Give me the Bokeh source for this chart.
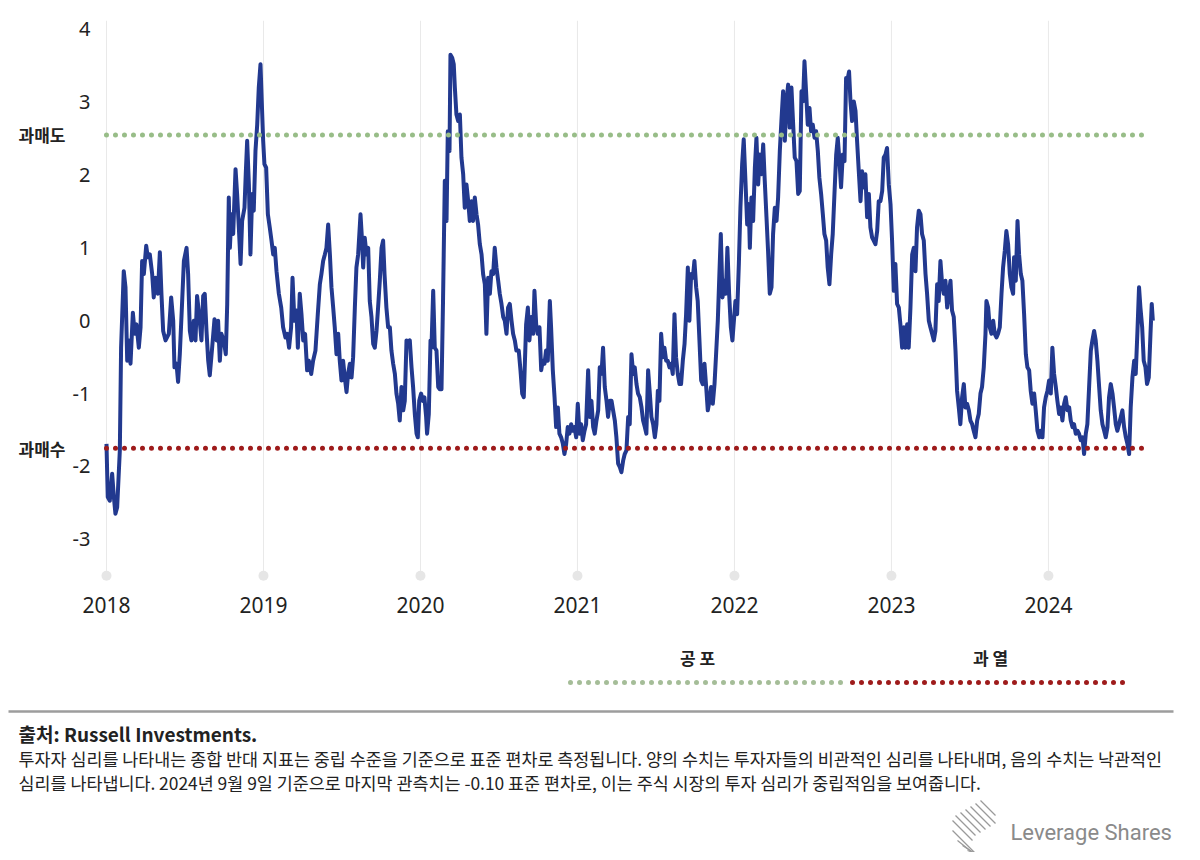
from bokeh.plotting import figure
from bokeh.models import Range1d, LinearAxis, FixedTicker, Label
from bokeh.embed import file_html
from bokeh.resources import INLINE

# ---------------- data ----------------
base_year = 2018
# time in years since 2018-01-01
year_offset = [
    0.000, 0.008, 0.021, 0.036, 0.047, 0.057, 0.068, 0.085, 0.093, 0.110, 0.121, 0.132, 0.142, 0.153, 0.168,
    0.180, 0.191, 0.206, 0.217, 0.227, 0.238, 0.253, 0.263, 0.276, 0.291, 0.301, 0.312, 0.327, 0.340, 0.350,
    0.361, 0.376, 0.397, 0.412, 0.425, 0.433, 0.446, 0.456, 0.467, 0.482, 0.493, 0.510, 0.520, 0.531, 0.541,
    0.556, 0.567, 0.577, 0.590, 0.605, 0.616, 0.626, 0.637, 0.648, 0.658, 0.673, 0.688, 0.701, 0.711, 0.722,
    0.732, 0.747, 0.760, 0.769, 0.779, 0.786, 0.796, 0.807, 0.822, 0.832, 0.843, 0.854, 0.864, 0.879, 0.887,
    0.896, 0.907, 0.917, 0.928, 0.938, 0.949, 0.960, 0.970, 0.981, 0.989, 0.998, 1.006, 1.017, 1.028, 1.040,
    1.051, 1.062, 1.072, 1.083, 1.098, 1.113, 1.125, 1.140, 1.151, 1.163, 1.176, 1.185, 1.197, 1.210, 1.219,
    1.231, 1.242, 1.253, 1.265, 1.278, 1.289, 1.304, 1.316, 1.331,
    1.346, 1.359, 1.369, 1.380, 1.391, 1.401, 1.412, 1.423, 1.433, 1.444, 1.454, 1.465, 1.476, 1.486, 1.497,
    1.507, 1.518, 1.529, 1.539, 1.550, 1.561, 1.571, 1.582, 1.592, 1.603, 1.618, 1.628, 1.635, 1.645, 1.656,
    1.667, 1.677, 1.688, 1.699, 1.709, 1.720, 1.730, 1.741, 1.752, 1.762, 1.771, 1.783, 1.794, 1.805, 1.815,
    1.826, 1.837, 1.847, 1.858, 1.868, 1.879, 1.890, 1.900, 1.911, 1.921, 1.932, 1.943, 1.953, 1.964, 1.975,
    1.983, 1.992, 2.004, 2.015, 2.025, 2.036, 2.042, 2.053, 2.064, 2.070, 2.081, 2.091, 2.102, 2.113, 2.123,
    2.134, 2.144, 2.155, 2.166, 2.174, 2.185, 2.191, 2.202, 2.212, 2.219, 2.229, 2.240, 2.251, 2.261, 2.272,
    2.282, 2.293, 2.304, 2.314, 2.325, 2.335, 2.346, 2.357, 2.367, 2.378, 2.389, 2.399, 2.410, 2.420, 2.431,
    2.442, 2.452, 2.463, 2.473, 2.484, 2.495, 2.505, 2.516, 2.527, 2.537, 2.548, 2.558, 2.569, 2.580, 2.590,
    2.601, 2.611, 2.626, 2.637, 2.648, 2.658,
    2.673, 2.684, 2.694, 2.705, 2.718, 2.726, 2.737, 2.747, 2.758, 2.769, 2.779, 2.790, 2.800, 2.811, 2.824,
    2.832, 2.843, 2.854, 2.864, 2.875, 2.885, 2.896, 2.907, 2.917, 2.928, 2.938, 2.949, 2.960, 2.970, 2.981,
    2.992, 3.002, 3.013, 3.023, 3.034, 3.045, 3.055, 3.068, 3.079, 3.089, 3.100, 3.110, 3.121, 3.132, 3.142,
    3.153, 3.163, 3.174, 3.185, 3.195, 3.206, 3.217, 3.227, 3.238, 3.248, 3.259, 3.270, 3.280, 3.291, 3.301,
    3.312, 3.323, 3.333, 3.344, 3.355, 3.365, 3.376, 3.386, 3.397, 3.408, 3.418, 3.429, 3.439, 3.450, 3.461,
    3.471, 3.482, 3.493, 3.503, 3.512, 3.522, 3.533, 3.544, 3.554, 3.565, 3.575, 3.586, 3.597, 3.607, 3.618,
    3.628, 3.639, 3.650, 3.660, 3.671, 3.682, 3.692, 3.703, 3.713, 3.724, 3.735, 3.745, 3.756, 3.766, 3.777,
    3.788, 3.798, 3.809, 3.820, 3.830, 3.841, 3.851, 3.862, 3.873, 3.883, 3.894, 3.904, 3.913, 3.924, 3.934,
    3.945, 3.955, 3.966, 3.977, 3.987,
    4.006, 4.017, 4.028, 4.038, 4.049, 4.059, 4.070, 4.081, 4.091, 4.098, 4.108, 4.119, 4.130, 4.140, 4.151,
    4.161, 4.172, 4.183, 4.193, 4.204, 4.214, 4.225, 4.236, 4.246, 4.257, 4.268, 4.278, 4.289, 4.299, 4.310,
    4.321, 4.331, 4.342, 4.352, 4.363, 4.374, 4.384, 4.395, 4.406, 4.416, 4.427, 4.437, 4.446, 4.456, 4.467,
    4.478, 4.488, 4.499, 4.510, 4.520, 4.531, 4.541, 4.552, 4.563, 4.573, 4.584, 4.594, 4.605, 4.616, 4.626,
    4.637, 4.648, 4.658, 4.669, 4.679, 4.690, 4.701, 4.711, 4.722, 4.730, 4.739, 4.749, 4.760, 4.771, 4.781,
    4.792, 4.803, 4.813, 4.824, 4.834, 4.845, 4.856, 4.866, 4.877, 4.887, 4.898, 4.909, 4.919, 4.930, 4.941,
    4.951, 4.962, 4.972, 4.983, 4.994, 5.004, 5.015, 5.025, 5.036, 5.047, 5.057, 5.068, 5.079, 5.089, 5.100,
    5.110, 5.121, 5.132, 5.142, 5.153, 5.163, 5.174, 5.185, 5.195, 5.206, 5.217, 5.227, 5.238, 5.248, 5.259,
    5.270, 5.280, 5.291, 5.301, 5.312, 5.323, 5.333,
    5.344, 5.355, 5.365, 5.376, 5.386, 5.397, 5.408, 5.418, 5.429, 5.439, 5.450, 5.461, 5.471, 5.482, 5.493,
    5.503, 5.514, 5.524, 5.535, 5.546, 5.556, 5.567, 5.577, 5.588, 5.599, 5.605, 5.616, 5.626, 5.637, 5.648,
    5.658, 5.669, 5.679, 5.690, 5.701, 5.711, 5.722, 5.732, 5.743, 5.754, 5.764, 5.775, 5.781, 5.792, 5.803,
    5.813, 5.824, 5.834, 5.845, 5.856, 5.866, 5.877, 5.887, 5.898, 5.909, 5.919, 5.930, 5.941, 5.951, 5.962,
    5.972, 5.983, 5.994, 6.004, 6.015, 6.025, 6.036, 6.047, 6.057, 6.068, 6.079, 6.089, 6.100, 6.110, 6.121,
    6.132, 6.142, 6.153, 6.163, 6.174, 6.185, 6.195, 6.206, 6.217, 6.227, 6.238, 6.248, 6.259, 6.270, 6.280,
    6.291, 6.301, 6.312, 6.323, 6.333, 6.344, 6.355, 6.365, 6.376, 6.386, 6.397, 6.408, 6.418, 6.429, 6.439,
    6.450, 6.461, 6.471, 6.482, 6.493, 6.503, 6.514, 6.524, 6.535, 6.546, 6.556, 6.567, 6.577, 6.586, 6.597,
    6.607, 6.618, 6.628, 6.639, 6.650, 6.658, 6.665,
]
# composite contrarian sentiment indicator (standard deviations)
sentiment = [
    -1.69, -2.42, -2.47, -2.10, -2.42, -2.65, -2.56, -1.78, -0.37, 0.68, 0.46, -0.55, -0.27, -0.59, 0.11,
    -0.18, -0.05, -0.37, -0.09, 0.82, 0.64, 1.03, 0.87, 0.91, 0.64, 0.32, 0.59, 0.37, 0.94, 0.37,
    -0.14, -0.27, -0.18, 0.32, 0.00, -0.64, -0.59, -0.84, -0.46, 0.27, 0.82, 1.00, 0.64, -0.14, -0.27,
    0.00, -0.27, 0.34, 0.09, -0.27, 0.34, 0.37, -0.14, -0.55, -0.75, -0.37, 0.02, -0.27, 0.00, -0.55,
    -0.18, -0.27, -0.46, 0.23, 1.69, 1.00, 1.46, 1.19, 2.08, 1.74, 1.28, 0.78, 1.37, 1.55, 2.01,
    2.47, 1.87, 0.91, 1.74, 1.51, 2.33, 2.69, 3.20, 3.52, 3.01, 2.47, 2.15, 2.10, 1.46, 1.28,
    1.10, 0.91, 1.00, 0.68, 0.37, 0.18, -0.09, -0.23, -0.18, -0.37, -0.09, 0.59, 0.00, 0.14, -0.37,
    0.37, 0.09, -0.27, -0.18, -0.68, -0.55, -0.73, -0.55, -0.41,
    0.09, 0.50, 0.64, 0.82, 0.91, 1.00, 1.32, 0.91, 0.46, 0.18, -0.09, -0.46, -0.18, -0.55, -0.82,
    -0.55, -0.78, -0.98, -0.73, -0.59, -0.78, -0.50, 0.18, 0.73, 0.91, 1.46, 1.10, 0.73, 1.14, 0.91,
    1.00, 0.27, 0.05, -0.32, -0.37, -0.14, 0.18, 0.55, 1.00, 1.10, 0.64, 0.18, -0.09, -0.09, -0.41,
    -0.59, -0.73, -1.00, -1.14, -1.37, -0.91, -1.23, -1.10, -0.27, -0.32, -0.27, -0.64, -0.91, -1.28, -1.55,
    -1.60, -1.10, -1.00, -1.10, -1.05, -1.32, -1.55, -1.28, -0.27, -0.37, 0.41, -0.37, -0.41, -0.91, -0.94,
    -0.94, 0.32, 1.92, 1.37, 2.60, 2.33, 3.65, 3.61, 3.52, 3.20, 2.83, 2.74, 2.83, 2.24, 2.01,
    1.55, 1.87, 1.64, 1.37, 1.64, 1.37, 1.69, 1.46, 1.32, 1.05, 0.91, 0.64, 0.50, -0.18, 0.59,
    0.37, 0.68, 0.64, 1.00, 0.73, 0.55, 0.37, 0.23, 0.05, 0.00, -0.18, 0.18, 0.23, 0.00, -0.18,
    -0.27, -0.41, -0.41, -0.68, -1.00, -1.05,
    -0.05, 0.18, -0.27, 0.05, -0.18, 0.41, -0.05, -0.18, -0.09, -0.68, -0.55, -0.59, -0.41, -0.55, 0.27,
    -0.09, -0.68, -1.05, -1.46, -1.19, -1.55, -1.60, -1.69, -1.83, -1.69, -1.46, -1.55, -1.42, -1.51, -1.46,
    -1.60, -1.14, -1.55, -1.42, -1.64, -1.51, -1.42, -0.68, -1.32, -1.10, -1.46, -1.55, -1.37, -1.23, -0.64,
    -0.73, -0.37, -0.91, -1.10, -1.32, -1.10, -1.10, -1.23, -1.37, -1.60, -1.96, -2.01, -2.08, -1.92, -1.83,
    -1.78, -1.32, -1.42, -0.46, -0.73, -0.64, -0.87, -1.00, -1.05, -1.19, -1.37, -1.46, -1.55, -0.68, -1.00,
    -1.32, -1.42, -1.60, -1.42, -0.96, -1.10, -0.18, -0.50, -0.37, -0.55, -0.55, -0.64, -0.59, -0.73, 0.09,
    -0.50, -0.73, -0.87, -0.87, -0.55, -0.32, 0.09, 0.73, 0.00, 0.64, 0.59, 0.82, 0.46, 0.27, -0.27,
    -0.82, -0.87, -0.59, -0.91, -1.23, -1.10, -0.91, -1.14, -0.87, -0.46, 0.00, 0.64, 1.19, 0.32, 0.55,
    0.37, 1.00, 0.37, -0.09, -0.27,
    0.27, 0.09, 0.78, 1.55, 2.15, 2.49, 1.92, 1.32, 1.60, 1.00, 1.69, 1.37, 2.10, 2.51, 1.87,
    2.28, 2.01, 2.42, 1.92, 1.42, 0.96, 0.37, 0.46, 1.19, 1.55, 1.37, 1.69, 2.33, 2.74, 3.15,
    2.47, 3.01, 3.24, 2.65, 3.20, 2.69, 2.24, 2.19, 1.74, 1.78, 3.15, 3.01, 3.56, 3.15, 2.69,
    2.92, 2.60, 2.69, 2.51, 2.60, 2.33, 1.96, 1.74, 1.46, 1.19, 1.10, 0.73, 0.50, 0.91, 1.19,
    1.74, 2.28, 2.51, 2.19, 1.83, 2.28, 2.19, 3.33, 3.33, 3.42, 3.01, 2.74, 3.01, 2.88, 2.47,
    2.05, 1.64, 2.05, 1.83, 2.01, 1.42, 1.74, 1.28, 1.14, 1.10, 1.05, 1.23, 1.64, 1.64, 1.78,
    2.24, 2.28, 2.37, 1.87, 1.60, 1.10, 0.41, 0.78, 0.23, 0.18, -0.05, -0.37, -0.09, -0.37, -0.05,
    -0.37, 0.18, 0.91, 1.00, 0.68, 1.28, 1.51, 1.46, 1.19, 1.10, 0.64, 0.37, 0.00, -0.09, -0.18,
    -0.27, -0.14, 0.50, 0.27, 0.82, 0.50, 0.37,
    0.55, 0.18, 0.37, 0.55, 0.14, 0.05, -0.41, -0.96, -1.19, -1.42, -1.05, -0.87, -1.19, -1.14, -1.23,
    -1.37, -1.42, -1.51, -1.60, -1.37, -1.28, -1.00, -0.91, -0.64, -0.18, 0.27, 0.18, -0.09, -0.18, 0.00,
    -0.18, -0.23, -0.18, -0.09, 0.37, 0.73, 0.96, 1.23, 1.05, 0.64, 0.46, 0.37, 0.87, 0.55, 1.37,
    0.91, 0.64, 0.55, 0.09, -0.46, -0.64, -0.68, -0.96, -1.14, -1.00, -1.23, -1.51, -1.60, -1.51, -1.60,
    -1.19, -1.05, -0.96, -0.82, -1.00, -0.37, -0.73, -0.91, -1.10, -1.28, -1.19, -1.37, -1.14, -1.05, -1.23,
    -1.19, -1.37, -1.46, -1.42, -1.55, -1.51, -1.55, -1.64, -1.60, -1.83, -1.55, -1.42, -0.91, -0.41, -0.27,
    -0.14, -0.27, -0.55, -0.91, -1.23, -1.42, -1.51, -1.60, -1.46, -1.05, -0.87, -1.00, -1.19, -1.42, -1.51,
    -1.42, -1.32, -1.23, -1.46, -1.60, -1.69, -1.83, -1.19, -0.78, -0.55, -0.73, -0.14, 0.46, 0.18, -0.09,
    -0.55, -0.64, -0.87, -0.78, -0.18, 0.23, 0.00,
]

year_ticks = [2018, 2019, 2020, 2021, 2022, 2023, 2024]
value_ticks = [-3, -2, -1, 0, 1, 2, 3, 4]
value_tick_labels = {-3: "-3", -2: "-2", -1: "-1", 0: "0", 1: "1", 2: "2", 3: "3", 4: "4"}
oversold_level = 2.55     # 과매도 (green)
overbought_level = -1.75  # 과매수 (red)
level_labels = {oversold_level: "과매도", overbought_level: "과매수"}
legend_labels = ["공 포", "과 열"]
source_line = "출처: Russell Investments."
note_lines = [
    "투자자 심리를 나타내는 종합 반대 지표는 중립 수준을 기준으로 표준 편차로 측정됩니다. 양의 수치는 투자자들의 비관적인 심리를 나타내며, 음의 수치는 낙관적인",
    "심리를 나타냅니다. 2024년 9월 9일 기준으로 마지막 관측치는 -0.10 표준 편차로, 이는 주식 시장의 투자 심리가 중립적임을 보여줍니다.",
]
brand = "Leverage Shares"

# ---------------- styles ----------------
LINE_BLUE = "#22398f"
GREEN = "#98bd88"
RED = "#9e1b1b"
GRID = "#e9e9e9"
TXT = "#222222"
KR = "Noto Sans CJK KR"
NUM = "Noto Sans"

x = [base_year + t for t in year_offset]
y_top = 4.12
y_floor = -3.5

W = 1192
p = figure(width=W, height=628,
           x_range=Range1d(2017.93, 2024.752), y_range=Range1d(-3.62, y_top),
           x_axis_type=None, y_axis_type=None,
           output_backend="svg", toolbar_location=None,
           min_border_left=95, min_border_right=26, min_border_top=20, min_border_bottom=44)
p.outline_line_color = None
p.background_fill_color = "white"
p.border_fill_color = "white"

xaxis = LinearAxis(ticker=FixedTicker(ticks=year_ticks),
                   axis_line_color=None, major_tick_line_color=None, minor_tick_line_color=None,
                   major_tick_out=0, major_tick_in=0, minor_tick_out=0, minor_tick_in=0,
                   major_label_text_font=NUM, major_label_text_font_size="21px",
                   major_label_text_color=TXT, major_label_standoff=12)
p.add_layout(xaxis, "below")

yaxis = LinearAxis(ticker=FixedTicker(ticks=value_ticks),
                   major_label_overrides=value_tick_labels,
                   axis_line_color=None, major_tick_line_color=None, minor_tick_line_color=None,
                   major_tick_out=0, major_tick_in=0, minor_tick_out=0, minor_tick_in=0,
                   major_label_text_font=NUM, major_label_text_font_size="20px",
                   major_label_text_color=TXT, major_label_standoff=5)
p.add_layout(yaxis, "left")

level_axis = LinearAxis(ticker=FixedTicker(ticks=list(level_labels.keys())),
                        major_label_overrides=level_labels,
                        axis_line_color=None, major_tick_line_color=None, minor_tick_line_color=None,
                        major_tick_out=0, major_tick_in=0, minor_tick_out=0, minor_tick_in=0,
                        major_label_text_font=KR, major_label_text_font_size="17px",
                        major_label_text_font_style="bold",
                        major_label_text_color=TXT, major_label_standoff=4)
p.add_layout(level_axis, "left")

# vertical year gridlines with a dot at their foot
p.segment(x0=year_ticks, y0=[y_floor] * len(year_ticks), x1=year_ticks, y1=[y_top] * len(year_ticks),
          line_color=GRID, line_width=1)
p.scatter(x=year_ticks, y=[y_floor] * len(year_ticks), size=10, fill_color="#e6e6e6", line_color=None)

# sentiment line
p.line(x, sentiment, line_color=LINE_BLUE, line_width=4, line_join="round")

# threshold lines (dotted)
p.line([x[0], x[-1] - 0.02], [oversold_level, oversold_level], line_color=GREEN, line_width=5,
       line_dash="0 9", line_cap="round")
p.line([x[0], x[-1] - 0.02], [overbought_level, overbought_level], line_color=RED, line_width=5,
       line_dash="0 9", line_cap="round")

# ---------------- bottom panel (legend + notes) ----------------
q = figure(width=W, height=224, x_range=Range1d(0, W), y_range=Range1d(852, 628),
           x_axis_type=None, y_axis_type=None, output_backend="svg", toolbar_location=None,
           min_border=0)
q.outline_line_color = None
q.grid.visible = False

q.add_layout(Label(x=697, y=657, text=legend_labels[0], text_align="center", text_baseline="middle",
                   text_font=KR, text_font_size="17px", text_font_style="bold", text_color=TXT))
q.add_layout(Label(x=990, y=657, text=legend_labels[1], text_align="center", text_baseline="middle",
                   text_font=KR, text_font_size="17px", text_font_style="bold", text_color=TXT))
q.line([570, 845], [682, 682], line_color="#a5bd98", line_width=5, line_dash="0 9", line_cap="round")
q.line([852, 1127], [682, 682], line_color=RED, line_width=5, line_dash="0 9", line_cap="round")

q.line([8, 1173], [711, 711], line_color="#9d9d9d", line_width=2.5)

q.add_layout(Label(x=18, y=733, text=source_line, text_align="left", text_baseline="middle",
                   text_font=KR, text_font_size="19px", text_font_style="bold", text_color=TXT))
for i, line in enumerate(note_lines):
    q.add_layout(Label(x=18, y=758 + 24 * i, text=line, text_align="left", text_baseline="middle",
                       text_font=KR, text_font_size="17.4px", text_color=TXT))

# brand mark
q.segment(x0=[955, 960, 965, 970, 975, 980], y0=[815, 812, 809, 806, 803, 800],
          x1=[975, 980, 985, 990, 995, 995], y1=[835, 832, 829, 826, 823, 815],
          line_color="#9a9a9a", line_width=1.3)
q.segment(x0=[952, 952, 957, 962, 967], y0=[820, 830, 840, 845, 850],
          x1=[972, 977, 982, 982, 982], y1=[840, 855, 860, 858, 855],
          line_color="#9a9a9a", line_width=1.3)
q.add_layout(Label(x=1010, y=832, text=brand, text_align="left", text_baseline="middle",
                   text_font="Roboto", text_font_size="22px", text_color="#8a8a8a"))

open("out.html", "w").write(file_html([p, q], INLINE))
